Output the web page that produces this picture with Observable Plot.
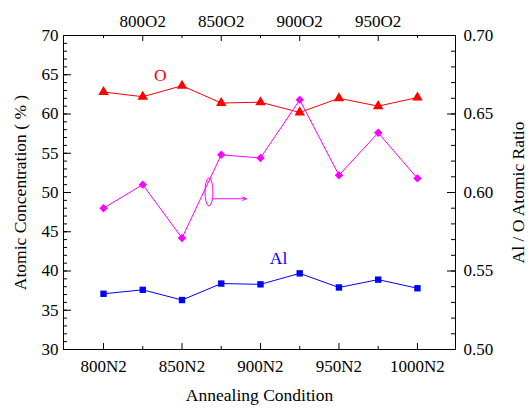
<!DOCTYPE html>
<html>
<head>
<meta charset="utf-8">
<script src="https://cdn.jsdelivr.net/npm/d3@7"></script>
<script src="https://cdn.jsdelivr.net/npm/@observablehq/plot@0.6"></script>
<style>
  html, body { margin: 0; padding: 0; background: #fff; }
  #chart svg { display: block; }
</style>
</head>
<body>
<div id="chart"></div>
<script>
// ---- data ----
const conditions = ["800N2","800O2","850N2","850O2","900N2","900O2","950N2","950O2","1000N2"];
const oConc   = [62.8, 62.2, 63.6, 61.4, 61.5, 60.2, 62.0, 61.0, 62.1];
const alConc  = [37.1, 37.6, 36.3, 38.4, 38.3, 39.7, 37.9, 38.9, 37.8];
const alORatio = [0.590, 0.605, 0.571, 0.624, 0.622, 0.659, 0.611, 0.638, 0.609];
const leftTicks = [30, 35, 40, 45, 50, 55, 60, 65, 70];
const rightTicks = [0.50, 0.55, 0.60, 0.65, 0.70];
const bottomTickIdx = [0, 2, 4, 6, 8];
const topTickIdx = [1, 3, 5, 7];

// ---- layout ----
const W = 529, H = 412;
const mL = 63, mR = 74, mT = 35, mB = 63;
const fw = W - mL - mR, fh = H - mT - mB;
const FONT = "Liberation Serif";

// right axis (ratio) mapped onto left axis domain
const toLeft = r => 30 + (r - 0.5) * 200;
const idx = conditions.map((_, i) => i);
const oData = idx.map(i => ({i, v: oConc[i]}));
const alData = idx.map(i => ({i, v: alConc[i]}));
const rData = idx.map(i => ({i, v: toLeft(alORatio[i])}));

const minorLeft = d3.range(30, 71, 1);
const minorRight = d3.range(0.50, 0.7001, 0.01).map(toLeft);
const RED = "#ff0000", BLUE = "#0000ff", MAG = "#ff00ff";

const ellipseMark = (index, scales) => {
  const g = d3.create("svg:g");
  g.append("ellipse")
    .attr("cx", scales.x(2.70)).attr("cy", scales.y(50.0))
    .attr("rx", 4).attr("ry", 14)
    .attr("fill", "none").attr("stroke", MAG).attr("stroke-width", 1);
  return g.node();
};

const T = {fontFamily: FONT, fontVariant: "normal"};
const chart = Plot.plot({
  width: W, height: H,
  marginLeft: mL, marginRight: mR, marginTop: mT, marginBottom: mB,
  style: {fontFamily: FONT, fontSize: "17px", background: "#fff", color: "#000"},
  x: {type: "linear", domain: [-1.02, 8.97], axis: null},
  y: {domain: [30, 70], axis: null},
  marks: [
    // tick labels
    Plot.axisY({...T, anchor: "left", ticks: leftTicks, tickSize: 0, tickPadding: 5, label: null, fontSize: 17}),
    Plot.axisY({...T, anchor: "right", ticks: rightTicks.map(toLeft), tickSize: 0, tickPadding: 8, label: null, fontSize: 17,
      tickFormat: d => ((d - 30) / 200 + 0.5).toFixed(2)}),
    Plot.axisX({...T, anchor: "bottom", ticks: bottomTickIdx, tickSize: 0, tickPadding: 10, label: null, fontSize: 17,
      tickFormat: i => conditions[i]}),
    Plot.axisX({...T, anchor: "top", ticks: topTickIdx, tickSize: 0, tickPadding: 9, label: null, fontSize: 17,
      tickFormat: i => conditions[i]}),
    // inward ticks: left
    Plot.tickY(minorLeft, {y: d => d, insetRight: fw - 4}),
    Plot.tickY(leftTicks, {y: d => d, insetRight: fw - 8}),
    // right
    Plot.tickY(minorRight, {y: d => d, insetLeft: fw - 4}),
    Plot.tickY(rightTicks.map(toLeft), {y: d => d, insetLeft: fw - 8}),
    // bottom
    Plot.tickX(topTickIdx, {x: d => d, insetTop: fh - 3}),
    Plot.tickX(bottomTickIdx, {x: d => d, insetTop: fh - 6}),
    // top
    Plot.tickX(bottomTickIdx, {x: d => d, insetBottom: fh - 3}),
    Plot.tickX(topTickIdx, {x: d => d, insetBottom: fh - 6}),
    Plot.frame({stroke: "#000", strokeWidth: 1}),
    // axis titles
    Plot.text(["Annealing Condition"], {...T, frameAnchor: "bottom", dy: 46, lineAnchor: "middle", textAnchor: "middle", fontSize: 17.5}),
    Plot.text(["Atomic Concentration ( % )"], {...T, frameAnchor: "left", dx: -43, rotate: -90, textAnchor: "middle", lineAnchor: "middle", fontSize: 17.5}),
    Plot.text(["Al / O Atomic Ratio"], {...T, frameAnchor: "right", dx: 63, rotate: -90, textAnchor: "middle", lineAnchor: "middle", fontSize: 17.5}),
    // series
    Plot.line(oData, {x: "i", y: "v", stroke: RED, strokeWidth: 1}),
    Plot.dot(oData, {x: "i", y: "v", symbol: "triangle", r: 3.9, fill: RED, stroke: "none"}),
    Plot.line(rData, {x: "i", y: "v", stroke: MAG, strokeWidth: 1}),
    Plot.dot(rData, {x: "i", y: "v", symbol: "diamond2", r: 3.8, fill: MAG, stroke: "none"}),
    Plot.line(alData, {x: "i", y: "v", stroke: BLUE, strokeWidth: 1}),
    Plot.dot(alData, {x: "i", y: "v", symbol: "square", r: 3.6, fill: BLUE, stroke: "none"}),
    // annotations
    Plot.text(["O"], {...T, x: 1.45, y: 64.9, fill: RED, fontSize: 17.5}),
    Plot.text(["Al"], {...T, x: 4.46, y: 41.6, fill: BLUE, fontSize: 17.5}),
    ellipseMark,
    Plot.arrow([0], {x1: 2.80, y1: 49.2, x2: 3.64, y2: 49.2, stroke: MAG, strokeWidth: 1, headLength: 6, headAngle: 50})
  ]
});
d3.select(chart).selectAll("text")
  .attr("font-family", FONT).style("font-family", FONT).style("font-variant", "normal");
document.getElementById("chart").appendChild(chart);
</script>
</body>
</html>
